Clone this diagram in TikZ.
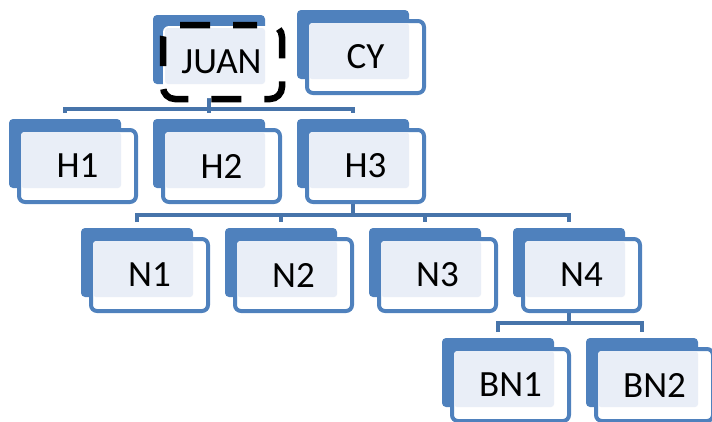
\documentclass[tikz,border=0pt]{standalone}
\usepackage{fontspec}
\setmainfont{Carlito}
\usetikzlibrary{backgrounds}
\definecolor{accblue}{HTML}{4F81BD}
\definecolor{lightfill}{HTML}{E9EEF7}
\definecolor{connblue}{HTML}{4774AA}
\tikzset{
 backbox/.style={rectangle, rounded corners=4pt, fill=accblue, minimum width=112pt, minimum height=69pt, inner sep=0pt, outer sep=0pt},
 frontbox/.style={rectangle, rounded corners=6pt, fill=white, draw=accblue, line width=4pt, minimum width=117pt, minimum height=72pt, inner sep=0pt, outer sep=0pt},
 lbl/.style={font=\fontsize{37}{40}\selectfont, inner sep=0pt, text=black},
 conn/.style={draw=connblue, line width=4.5pt},
 selbox/.style={draw=black, line width=6.5pt, dash pattern=on 30pt off 23pt, dash phase=7pt, rounded corners=12pt}
}
\newcommand\orgbox[5][]{%
 \node[backbox] (#2b) at (#3+56,#4+34.5) {};
 \node[frontbox,#1] (#2f) at (#3+68.5,#4+47) {};
 \fill[lightfill, rounded corners=3pt] (#3+12,#4+13) rectangle (#3+112,#4+69);
 \node[lbl] (#2) at (#2f.center) {#5};
}
\begin{document}
\begin{tikzpicture}[x=1pt,y=-1pt]
\useasboundingbox (0,0) rectangle (712,421);
\clip (0,0) rectangle (712,421);
% boxes
\orgbox[draw=none]{juan}{153}{15}{JUAN}
\orgbox{cy}{297}{10}{CY}
\orgbox{hone}{9}{119}{H1}
\orgbox{htwo}{153}{119}{H2}
\orgbox{hthree}{297}{119}{H3}
\orgbox{none}{81}{228}{N1}
\orgbox{ntwo}{225}{228}{N2}
\orgbox{nthree}{369}{228}{N3}
\orgbox{nfour}{513}{228}{N4}
\orgbox{bnone}{442}{338}{BN1}
\orgbox{bntwo}{586}{338}{BN2}
% selection frame around JUAN
\draw[selbox] (222,25) -- (282,25) -- (282,99) -- (163,99) -- (163,25) -- cycle;
% connector levels
\coordinate (busa) at (0,109);
\coordinate (busb) at (0,215);
\coordinate (busc) at (0,323);
\begin{pgfonlayer}{background}
% JUAN -> H
\draw[conn] (juanb.center |- juanf.south) -- (juanb.center |- busa);
\draw[conn] ([yshift=6pt]honeb.north) -- (honeb.north |- busa) -- (hthreeb.north |- busa) -- ([yshift=6pt]hthreeb.north);
\draw[conn] (htwob.north |- busa) -- ([yshift=6pt]htwob.north);
% H3 -> N
\draw[conn] (hthreeb.center |- hthreef.south) -- (hthreeb.center |- busb);
\draw[conn] ([yshift=6pt]noneb.north) -- (noneb.north |- busb) -- (nfourb.north |- busb) -- ([yshift=6pt]nfourb.north);
\draw[conn] (ntwob.north |- busb) -- ([yshift=6pt]ntwob.north);
\draw[conn] (nthreeb.north |- busb) -- ([yshift=6pt]nthreeb.north);
% N4 -> BN
\draw[conn] (nfourb.center |- nfourf.south) -- (nfourb.center |- busc);
\draw[conn] ([yshift=6pt]bnoneb.north) -- (bnoneb.north |- busc) -- (bntwob.north |- busc) -- ([yshift=6pt]bntwob.north);
\end{pgfonlayer}
\end{tikzpicture}
\end{document}
